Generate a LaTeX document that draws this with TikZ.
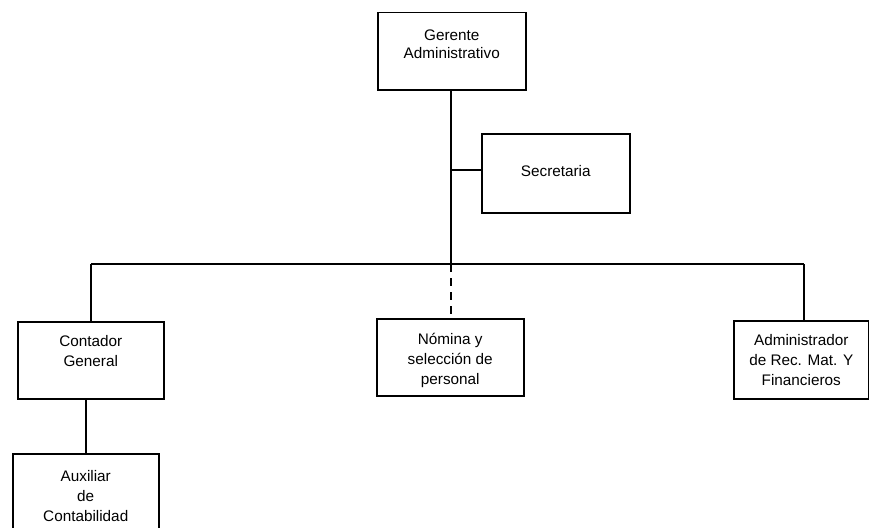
\documentclass[tikz,border=0pt]{standalone}
\usepackage{fontspec}
\setmainfont{Liberation Sans}
\begin{document}
\begin{tikzpicture}[x=1pt,y=-1pt,
  box/.style={draw=black,line width=1.5pt,rectangle,inner sep=0pt,anchor=north west},
  lbl/.style={align=center,inner sep=0pt,anchor=north,font=\fontsize{15.3}{20}\selectfont},
  conn/.style={draw=black,line width=2pt},
  dconn/.style={conn,dash pattern=on 8pt off 6pt}]
\clip (0,0) rectangle (869,527);
\useasboundingbox (0,0) rectangle (869,527);
% boxes
\node[box,minimum width=148pt,minimum height=77pt] (ger) at (377,12) {};
\node[box,minimum width=148pt,minimum height=79pt] (sec) at (481,133) {};
\node[box,minimum width=146pt,minimum height=77pt] (con) at (17,321) {};
\node[box,minimum width=147pt,minimum height=77pt] (nom) at (376,318) {};
\node[box,minimum width=135pt,minimum height=78pt] (adm) at (733,320) {};
\node[box,minimum width=146pt,minimum height=90pt] (aux) at (12,453) {};
% labels
\node[lbl,font=\fontsize{15.3}{18}\selectfont] (tger) at ([yshift=-18pt]ger.north) {Gerente\\Administrativo};
\node[lbl,anchor=center] (tsec) at ([yshift=2pt]sec.center) {Secretaria};
\node[lbl] (tcon) at ([yshift=-14pt]con.north) {Contador\\General};
\node[lbl] (tnom) at ([yshift=-15pt]nom.north) {Nómina y\\selección de\\personal};
\node[lbl] (tadm) at ([yshift=-14pt]adm.north) {Administrador\\de Rec. Mat. Y\\Financieros};
\node[lbl] (taux) at ([yshift=-17pt]aux.north) {Auxiliar\\de\\Contabilidad};
% junction coordinates
\coordinate (jtop) at (451,264);
\coordinate (jsec) at (451,170);
\coordinate (jl) at (91,264);
\coordinate (jr) at (804,264);
% connectors
\draw[conn] (ger.south -| jtop) -- (jtop);
\draw[conn] (jsec) -- (jsec -| sec.west);
\draw[conn] (jl) -- (jr);
\draw[conn] (jl) -- (jl |- con.north);
\draw[conn] (jr) -- (jr |- adm.north);
\draw[dconn] (jtop) -- (jtop |- nom.north);
\draw[conn] (con.south -| 86,0) -- (aux.north -| 86,0);
\end{tikzpicture}
\end{document}
